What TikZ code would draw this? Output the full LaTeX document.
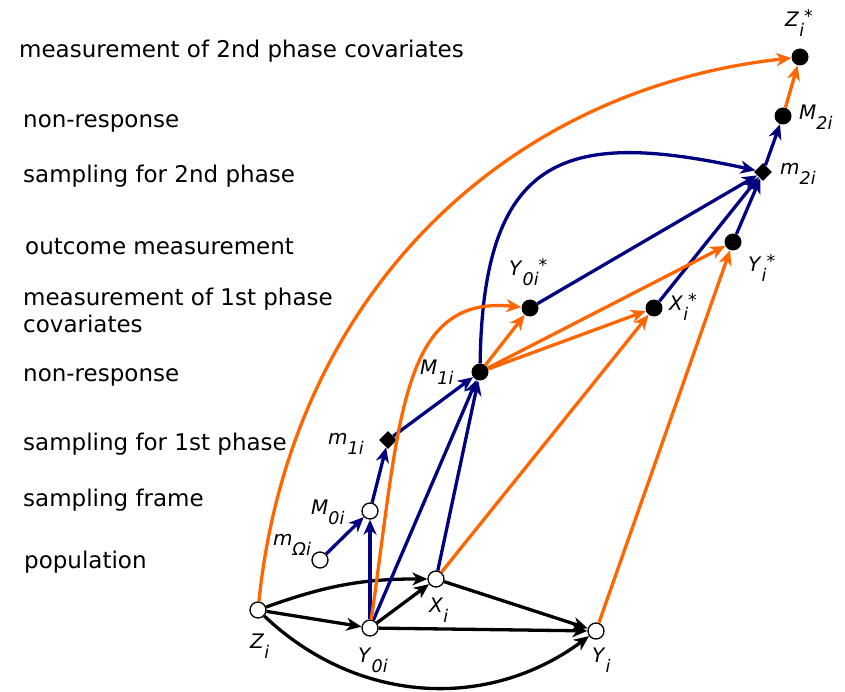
\documentclass[tikz,border=0pt]{standalone}
\usepackage{fontspec}
\setmainfont{DejaVu Sans}
\usetikzlibrary{arrows.meta, shapes.geometric}
\definecolor{orng}{HTML}{FF6600}
\definecolor{navy}{HTML}{000080}
% variable with subscript and optional star
\newcommand{\nv}[3]{\textit{#1}\raisebox{-10pt}{\fontsize{17.5}{17.5}\selectfont\textit{#2}}\raisebox{4pt}{\fontsize{17.5}{17.5}\selectfont #3}}

\begin{document}
\begin{tikzpicture}[x=1pt, y=1pt,
    obs/.style={circle, draw, fill=white, line width=1.3pt, minimum size=16pt, inner sep=0pt},
    obsf/.style={circle, fill=black, minimum size=17pt, inner sep=0pt},
    ind/.style={diamond, fill=black, minimum size=18pt, inner sep=0pt},
    lbl/.style={font=\fontsize{20}{22}\selectfont, inner sep=0pt, anchor=base west},
    stage/.style={font=\fontsize{23}{27}\selectfont, anchor=base west, inner sep=0pt, align=left},
    arr/.style={line width=3.3pt, -{Stealth[length=15pt, width=13pt, inset=4.5pt]}}]
    \useasboundingbox (0,0) rectangle (845,-692);
    % Stages
    \node[stage] (s2cov) at (19,-58) {measurement of 2nd phase covariates};
    \node[stage] (s2nr) at (23,-128) {non-response};
    \node[stage] (s2smp) at (23,-183) {sampling for 2nd phase};
    \node[stage] (sout) at (25,-255) {outcome measurement};
    \node[stage] (s1cov) at (23,-332) {measurement of 1st phase\\covariates};
    \node[stage] (s1nr) at (23,-381) {non-response};
    \node[stage] (s1smp) at (23,-450) {sampling for 1st phase};
    \node[stage] (sfrm) at (23,-506) {sampling frame};
    \node[stage] (spop) at (24,-568) {population};
    % Variables
    \node[obs] (zi) at (258,-610) {};
    \node[obs] (y0i) at (370,-628) {};
    \node[obs] (xi) at (436,-579) {};
    \node[obs] (yi) at (596,-631) {};
    \node[obs] (mom) at (320,-560) {};
    \node[obs] (m0i) at (370,-511) {};
    \node[ind] (m1i) at (388,-440) {};
    \node[obsf] (mm1i) at (480,-372) {};
    \node[obsf] (y0s) at (530,-308) {};
    \node[obsf] (xs) at (654,-308) {};
    \node[obsf] (ys) at (733,-242) {};
    \node[ind] (m2i) at (763,-172) {};
    \node[obsf] (mm2i) at (783,-116) {};
    \node[obsf] (zs) at (800,-57) {};
    % Labels
    \node[lbl] (zilab) at (250,-648) {\nv{Z}{i}{}};
    \node[lbl] (y0ilab) at (358,-662) {\nv{Y}{0i}{}};
    \node[lbl] (xilab) at (429,-612) {\nv{X}{i}{}};
    \node[lbl] (yilab) at (592,-662) {\nv{Y}{i}{}};
    \node[lbl] (momlab) at (273,-545) {\nv{m}{Ωi}{}};
    \node[lbl] (m0ilab) at (311,-514) {\nv{M}{0i}{}};
    \node[lbl] (m1ilab) at (328,-444) {\nv{m}{1i}{}};
    \node[lbl] (mm1ilab) at (420,-374) {\nv{M}{1i}{}};
    \node[lbl] (y0slab) at (509,-276) {\nv{Y}{0i}{*}};
    \node[lbl] (xslab) at (669,-310) {\nv{X}{i}{*}};
    \node[lbl] (yslab) at (748,-272) {\nv{Y}{i}{*}};
    \node[lbl] (m2ilab) at (780,-175) {\nv{m}{2i}{}};
    \node[lbl] (mm2ilab) at (799,-120) {\nv{M}{2i}{}};
    \node[lbl] (zslab) at (785,-27) {\nv{Z}{i}{*}};
    % Population relations
    \draw[arr] (zi) to[bend left=10] (xi);
    \draw[arr] (zi) -- (y0i);
    \draw[arr] (zi) to[bend right=40] (yi);
    \draw[arr] (y0i) -- (xi);
    \draw[arr] (y0i) -- (yi);
    \draw[arr] (xi) -- (yi);
    % Selection
    \draw[arr, navy] (mom) -- (m0i);
    \draw[arr, navy] (y0i) -- (m0i);
    \draw[arr, navy] (m0i) -- (m1i);
    \draw[arr, navy] (m1i) -- (mm1i);
    \draw[arr, navy] (y0i) -- (mm1i);
    \draw[arr, navy] (xi) -- (mm1i);
    \draw[arr, navy] (mm1i) .. controls (483,-150) and (570,-130) .. (m2i);
    \draw[arr, navy] (y0s) -- (m2i);
    \draw[arr, navy] (xs) -- (m2i);
    \draw[arr, navy] (ys) -- (m2i);
    \draw[arr, navy] (m2i) -- (mm2i);
    % Measurement
    \draw[arr, orng] (zi) .. controls (290,-300) and (500,-90) .. (zs);
    \draw[arr, orng] (y0i) .. controls (400,-420) and (400,-295) .. (y0s);
    \draw[arr, orng] (mm1i) -- (y0s);
    \draw[arr, orng] (mm1i) -- (xs);
    \draw[arr, orng] (mm1i) -- (ys);
    \draw[arr, orng] (xi) -- (xs);
    \draw[arr, orng] (yi) -- (ys);
    \draw[arr, orng] (mm2i) -- (zs);
\end{tikzpicture}
\end{document}
